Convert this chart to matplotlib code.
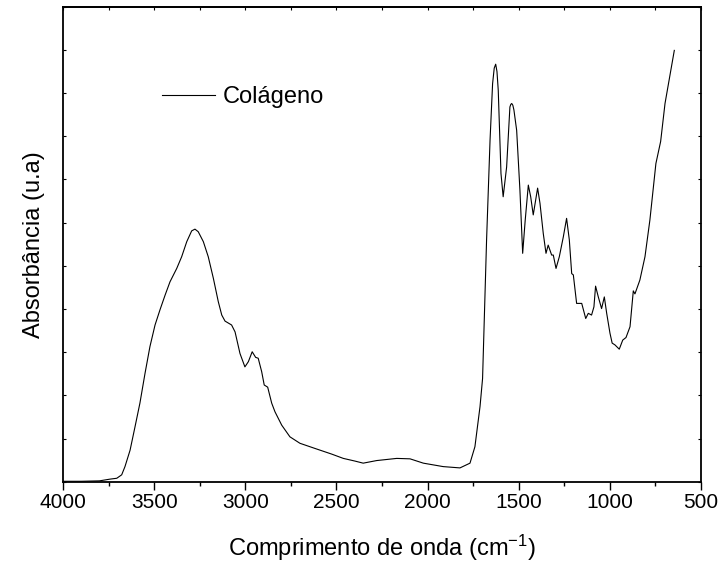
import matplotlib
matplotlib.use("Agg")
import matplotlib.pyplot as plt
from matplotlib.ticker import MultipleLocator

plt.rcParams["font.family"] = ["Liberation Sans", "DejaVu Sans"]
plt.rcParams["mathtext.default"] = "regular"

# FTIR spectrum of collagen (wavenumber in cm-1, absorbance in arbitrary units)
wavenumber = [
    4000, 3900, 3800, 3742, 3705, 3678, 3660, 3632, 3605, 3578, 3550, 3523,
    3495, 3468, 3440, 3413, 3376, 3349, 3321, 3294, 3276, 3258, 3230, 3203,
    3175, 3148, 3129, 3111, 3075, 3056, 3029, 3002, 2983, 2962, 2943, 2929,
    2910, 2896, 2877, 2855, 2837, 2800, 2755, 2700, 2617, 2526, 2462, 2400,
    2353, 2279, 2169, 2096, 2023, 1914, 1822, 1767, 1740, 1712, 1698, 1676,
    1657, 1643, 1634, 1626, 1619, 1612, 1597, 1585, 1566, 1548, 1543, 1538,
    1532, 1526, 1511, 1493, 1478, 1464, 1447, 1434, 1420, 1396, 1383, 1365,
    1350, 1338, 1319, 1310, 1295, 1277, 1255, 1237, 1222, 1209, 1200, 1182,
    1154, 1132, 1118, 1100, 1087, 1078, 1063, 1045, 1030, 1017, 999, 987,
    972, 948, 929, 911, 889, 871, 862, 835, 807, 780, 747, 721, 697, 646,
]
absorbance = [
    0.001, 0.001, 0.002, 0.006, 0.008, 0.016, 0.035, 0.073, 0.127, 0.182, 0.251, 0.313,
    0.363, 0.398, 0.432, 0.463, 0.494, 0.521, 0.556, 0.581, 0.585, 0.579, 0.556, 0.521,
    0.471, 0.417, 0.386, 0.372, 0.363, 0.347, 0.297, 0.266, 0.278, 0.301, 0.288, 0.286,
    0.255, 0.224, 0.219, 0.182, 0.162, 0.131, 0.104, 0.089, 0.077, 0.064, 0.054, 0.048,
    0.043, 0.049, 0.054, 0.053, 0.043, 0.035, 0.032, 0.043, 0.081, 0.174, 0.239, 0.560,
    0.791, 0.922, 0.958, 0.967, 0.950, 0.907, 0.714, 0.660, 0.729, 0.868, 0.874, 0.876,
    0.872, 0.861, 0.814, 0.675, 0.529, 0.606, 0.687, 0.660, 0.618, 0.680, 0.645, 0.575,
    0.529, 0.548, 0.525, 0.525, 0.494, 0.521, 0.567, 0.610, 0.560, 0.482, 0.479, 0.413,
    0.413, 0.378, 0.390, 0.386, 0.405, 0.453, 0.428, 0.401, 0.428, 0.390, 0.344, 0.321,
    0.317, 0.307, 0.328, 0.334, 0.359, 0.442, 0.435, 0.467, 0.521, 0.606, 0.737, 0.788,
    0.876, 0.999,
]

fig = plt.figure(figsize=(7.2, 5.65), dpi=100)
ax = fig.add_axes([0.0875, 0.1474, 0.886, 0.8406])

ax.plot(wavenumber, absorbance, color="black", linewidth=0.8, label="Colágeno")

ax.set_xlim(4000, 500)
ax.set_ylim(0, 1.1)
ax.xaxis.set_major_locator(MultipleLocator(500))
ax.xaxis.set_minor_locator(MultipleLocator(250))
ax.yaxis.set_major_locator(MultipleLocator(0.1))
ax.set_yticklabels([])

for side in ax.spines.values():
    side.set_linewidth(1.3)

ax.tick_params(axis="x", which="major", direction="out", length=6, width=1.0,
               labelsize=15, pad=2, top=False)
ax.tick_params(axis="x", which="minor", direction="out", length=3, width=1.0, top=False)
ax.tick_params(axis="y", which="major", direction="in", length=2, width=0.8,
               left=True, right=True, labelleft=False)

# short inward ticks along the top edge
top = ax.secondary_xaxis("top")
top.xaxis.set_major_locator(MultipleLocator(250))
top.tick_params(direction="in", length=2, width=0.8, labeltop=False)
top.spines["top"].set_linewidth(1.3)

ax.set_xlabel("Comprimento de onda (cm$^{-1}$)", fontsize=17, labelpad=15)
ax.set_ylabel("Absorbância (u.a)", fontsize=17, labelpad=13)

ax.legend(loc="center left", bbox_to_anchor=(0.155, 0.810), frameon=False,
          fontsize=17, handlelength=2.25, handletextpad=0.34,
          borderpad=0, borderaxespad=0)

fig.savefig("out.png", dpi=100)
